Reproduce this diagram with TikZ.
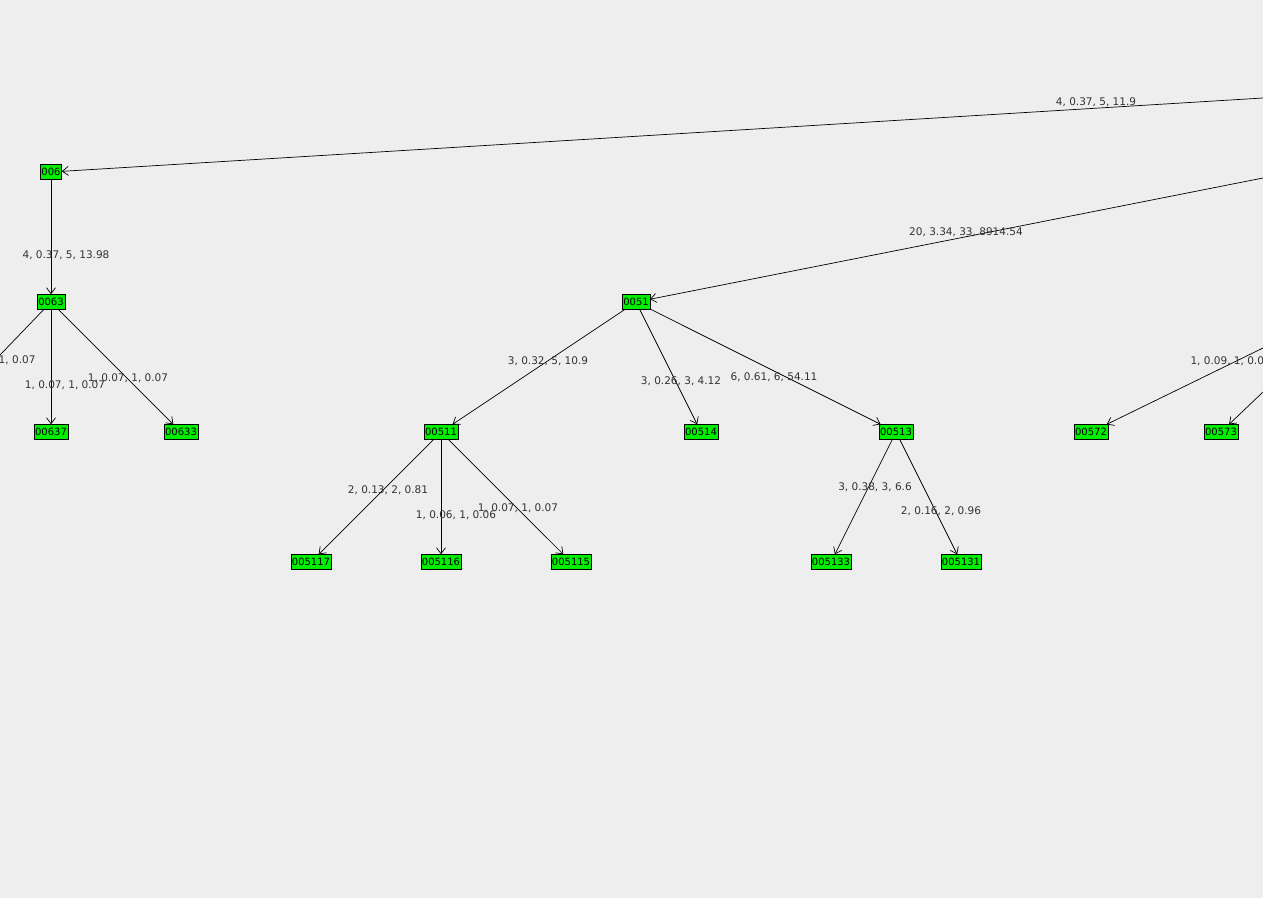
\documentclass[tikz,border=0pt]{standalone}
\usepackage{fontspec}
\setmainfont{DejaVu Sans}
\usetikzlibrary{arrows.meta}
\definecolor{bgc}{RGB}{238,238,238}
\definecolor{leaf}{RGB}{0,238,0}
\begin{document}
\begin{tikzpicture}[x=1pt,y=-1pt,
  tnode/.style={draw=black,fill=leaf,inner sep=1pt,minimum height=15pt,font=\fontsize{10}{11}\selectfont},
  elabel/.style={font=\fontsize{10.5}{12}\selectfont,text=black!80},
  edge/.style={-{Straight Barb[length=6pt,width=9pt]},line width=0.7pt}]
\fill[bgc] (0,0) rectangle (1263,898);
\clip (0,0) rectangle (1263,898);
% tree nodes
\node[tnode] (n006) at (51,172) {006};
\node[tnode] (n0063) at (51,302) {0063};
\node[tnode] (n00637) at (51,432) {00637};
\node[tnode] (n00633) at (181,432) {00633};
\node[tnode] (n0051) at (636,302) {0051};
\node[tnode] (n00511) at (441,432) {00511};
\node[tnode] (n00514) at (701,432) {00514};
\node[tnode] (n00513) at (896,432) {00513};
\node[tnode] (n005117) at (311,562) {005117};
\node[tnode] (n005116) at (441,562) {005116};
\node[tnode] (n005115) at (571,562) {005115};
\node[tnode] (n005133) at (831,562) {005133};
\node[tnode] (n005131) at (961,562) {005131};
\node[tnode] (n00572) at (1091,432) {00572};
\node[tnode] (n00573) at (1221,432) {00573};
% off-canvas ends
\coordinate (r1) at (1263,98);
\coordinate (r2) at (1263,178);
\coordinate (r3) at (1263,348);
\coordinate (r4) at (1263,392);
\coordinate (l1) at (0,355);
% edges
\draw[edge] (r1) -- (n006);
\draw[edge] (r2) -- (n0051);
\draw[edge] (r3) -- (n00572);
\draw[edge] (r4) -- (n00573);
\draw[edge] (n006) -- (n0063);
\draw[line width=0.7pt] (n0063) -- (l1);
\draw[edge] (n0063) -- (n00637);
\draw[edge] (n0063) -- (n00633);
\draw[edge] (n0051) -- (n00511);
\draw[edge] (n0051) -- (n00514);
\draw[edge] (n0051) -- (n00513);
\draw[edge] (n00511) -- (n005117);
\draw[edge] (n00511) -- (n005116);
\draw[edge] (n00511) -- (n005115);
\draw[edge] (n00513) -- (n005133);
\draw[edge] (n00513) -- (n005131);
% labels
\node[elabel] (t1) at (1096,102) {4, 0.37, 5, 11.9};
\node[elabel] (t2) at (966,232) {20, 3.34, 33, 8914.54};
\node[elabel] (t3) at (66,255) {4, 0.37, 5, 13.98};
\node[elabel,anchor=east] (t4) at (39,360) {1, 0.07};
\node[elabel] (t5) at (65,385) {1, 0.07, 1, 0.07};
\node[elabel] (t6) at (128,378) {1, 0.07, 1, 0.07};
\node[elabel] (t7) at (548,361) {3, 0.32, 5, 10.9};
\node[elabel] (t8) at (681,381) {3, 0.26, 3, 4.12};
\node[elabel] (t9) at (774,377) {6, 0.61, 6, 54.11};
\node[elabel] (t10) at (388,490) {2, 0.13, 2, 0.81};
\node[elabel] (t11) at (456,515) {1, 0.06, 1, 0.06};
\node[elabel] (t12) at (518,508) {1, 0.07, 1, 0.07};
\node[elabel] (t13) at (875,487) {3, 0.38, 3, 6.6};
\node[elabel] (t14) at (941,511) {2, 0.16, 2, 0.96};
\node[elabel,anchor=west] (t15) at (1187,361) {1, 0.09, 1, 0.09};
\end{tikzpicture}
\end{document}
